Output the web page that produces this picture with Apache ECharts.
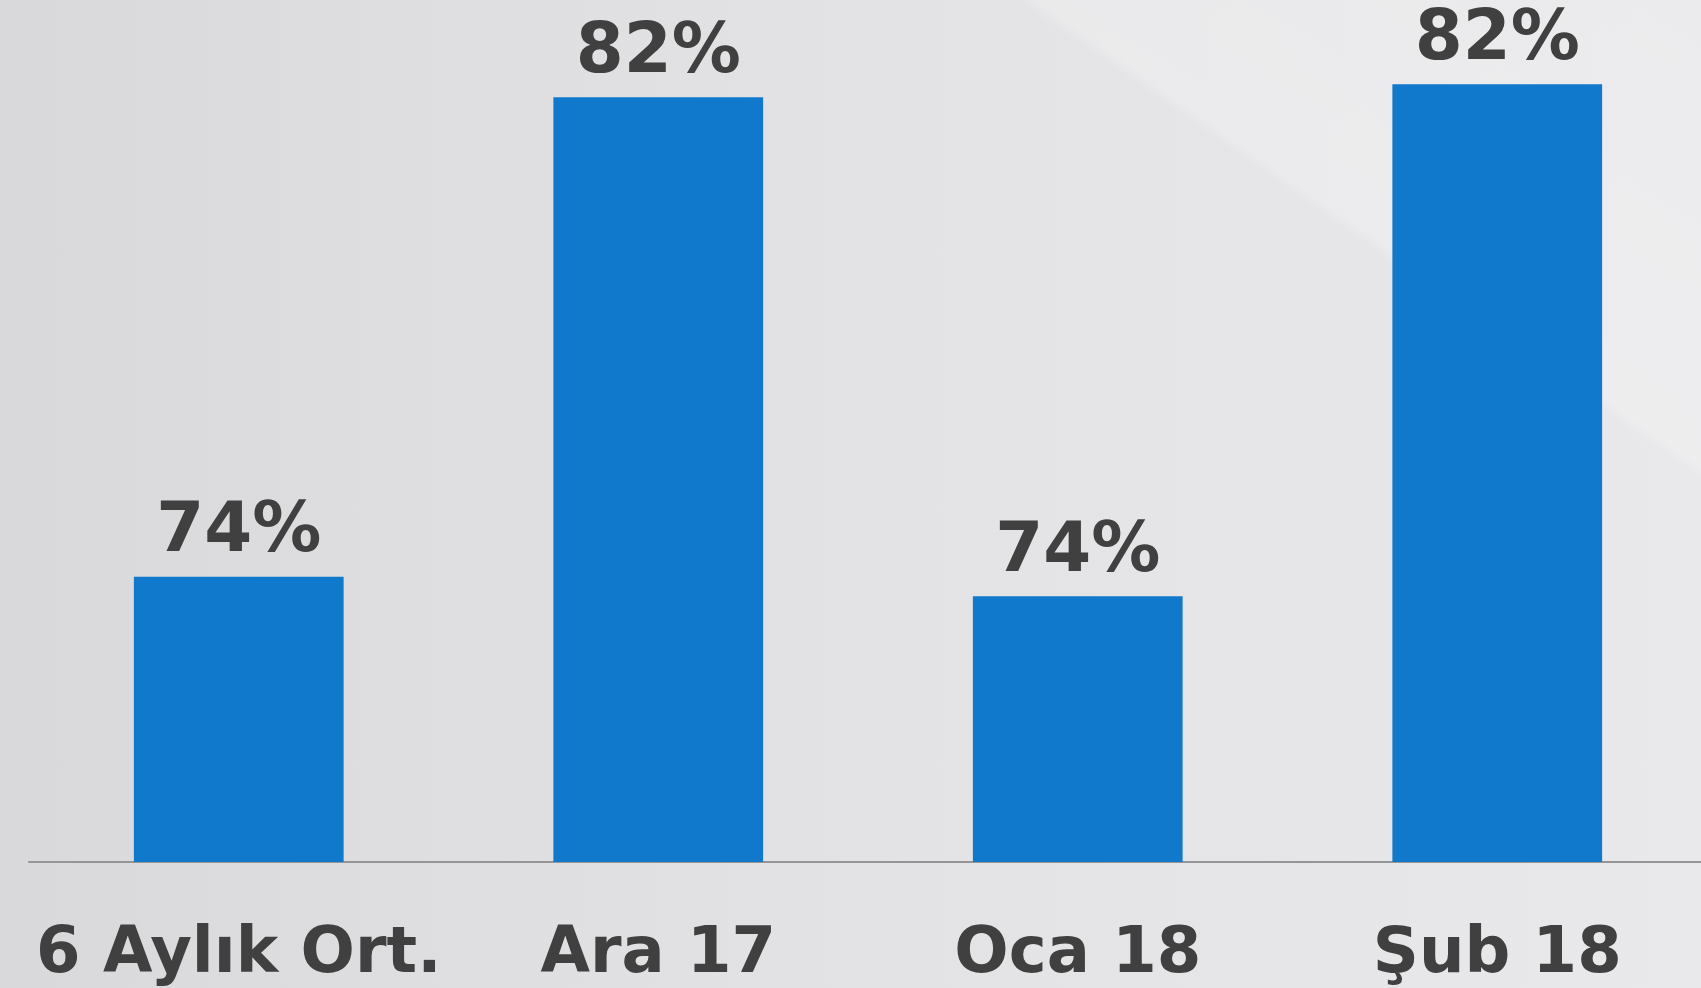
<!DOCTYPE html>
<html>
<head>
<meta charset="utf-8">
<script src="https://cdn.jsdelivr.net/npm/echarts@6/dist/echarts.min.js"></script>
<style>
	html, body {
		margin: 0;
		padding: 0;
	}

	.chart-wrapper {
		width: 1701px;
		height: 988px;
		background:
			linear-gradient(35deg, rgba(255,255,255,0) 78%, rgba(255,255,255,0.22) 78.6%, rgba(255,255,255,0.1) 100%),
			linear-gradient(90deg, #d9d9db 0%, #e2e2e4 45%, #e9e9eb 100%);
	}

	#main {
		width: 100%;
		height: 100%;
	}
</style>
</head>
<body>
<div class="chart-wrapper">
	<div id="main"></div>
</div>
<script>
	// 类别与数值
	const categories = ['6 Aylık Ort.', 'Ara 17', 'Oca 18', 'Şub 18'];
	const rates = [74.4, 81.8, 74.1, 82.0];

	let chartDom = document.getElementById('main');
	let myChart = echarts.init(chartDom);

	let option = {
		backgroundColor: 'transparent',
		animation: false,
		grid: {
			left: 29,
			width: 1678,
			top: 0,
			bottom: 126,
			outerBoundsMode: 'none',
			containLabel: false
		},
		xAxis: {
			type: 'category',
			data: categories,
			axisLine: {
				lineStyle: {
					color: '#959595',
					width: 2
				}
			},
			axisTick: {
				show: false
			},
			axisLabel: {
				interval: 0,
				margin: 61,
				color: '#404040',
				fontFamily: 'DejaVu Sans',
				fontWeight: 'bold',
				fontSize: 64
			}
		},
		yAxis: {
			type: 'value',
			min: 70,
			max: 83.3,
			show: false,
			splitLine: {
				show: false
			}
		},
		series: [{
			type: 'bar',
			data: rates,
			barWidth: '50%',
			itemStyle: {
				color: '#1079cc'
			},
			label: {
				show: true,
				position: 'top',
				distance: 9,
				color: '#404040',
				fontFamily: 'DejaVu Sans',
				fontWeight: 'bold',
				fontSize: 69,
				formatter: params => Math.round(params.value) + '%'
			}
		}]
	};

	myChart.setOption(option);
	window.addEventListener('resize', () => myChart.resize());
</script>
</body>
</html>
